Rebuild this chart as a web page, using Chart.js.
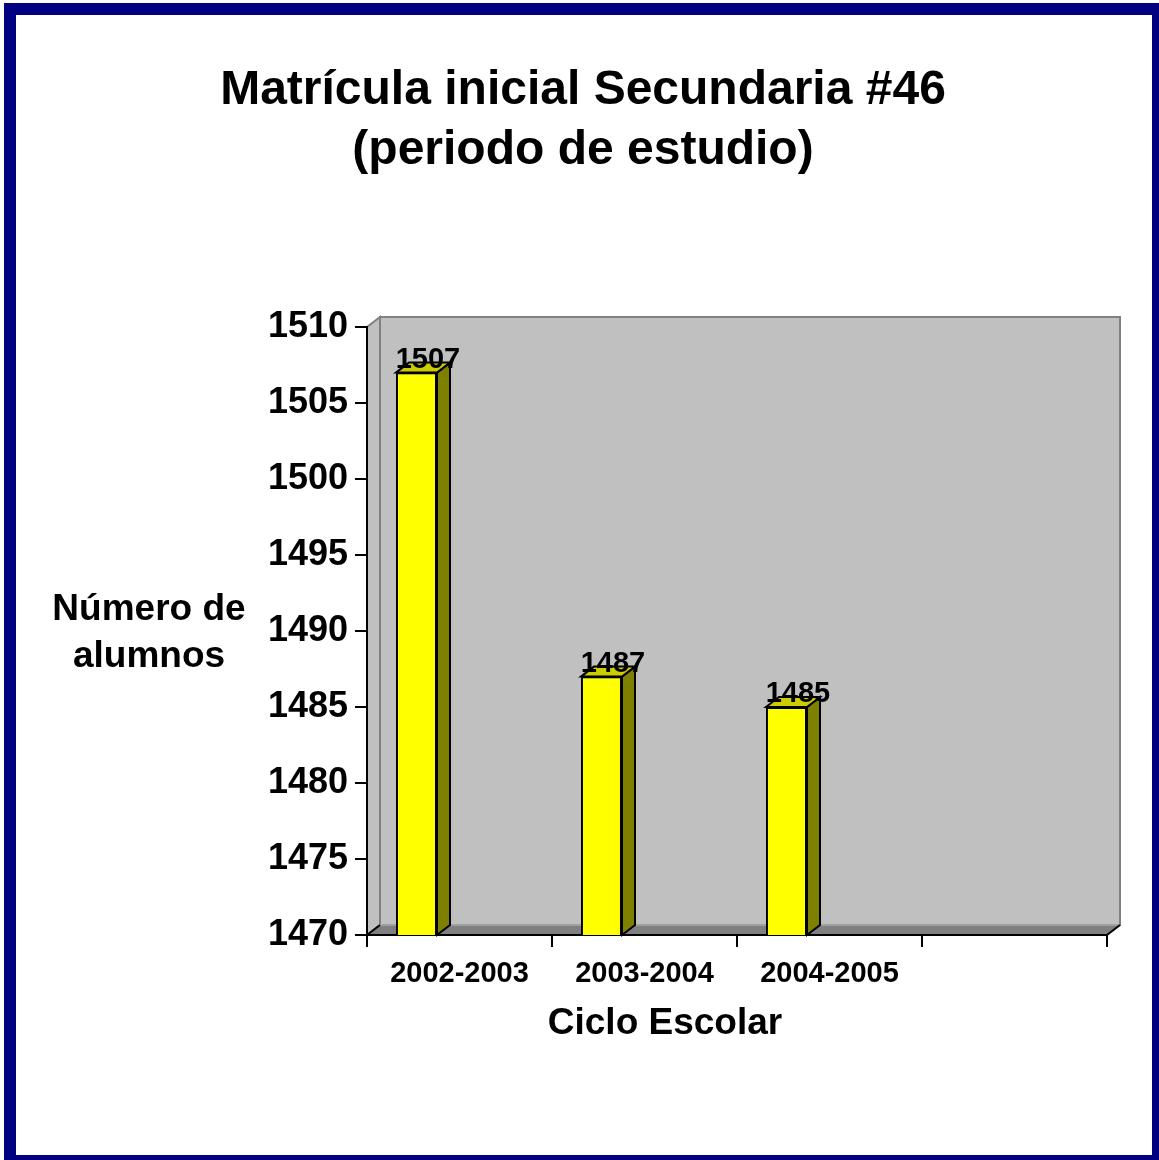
<!DOCTYPE html>
<html>
<head>
<meta charset="utf-8">
<script src="https://cdn.jsdelivr.net/npm/chart.js@4.4.1/dist/chart.umd.min.js"></script>
<style>
  html, body { margin: 0; padding: 0; background: #fff; }
  canvas { display: block; }
</style>
</head>
<body>
<canvas id="matricula" width="1159" height="1160"></canvas>
<script>
var ciclos = ['2002-2003', '2003-2004', '2004-2005', ''];
var alumnos = [1507, 1487, 1485, null];
var yMin = 1470, yMax = 1510, yStep = 5;

var FONT = '"Liberation Sans", Arial, sans-serif';
var DX = 13, DY = -10;   // profundidad del efecto 3D

var fondo3d = {
  id: 'fondo3d',
  beforeDraw(chart) {
    var c = chart.ctx, a = chart.chartArea;
    var L = a.left, R = a.right, T = a.top, B = a.bottom;
    c.save();
    c.fillStyle = '#fff';
    c.fillRect(0, 0, chart.width, chart.height);
    // marco azul
    c.fillStyle = '#000080';
    c.fillRect(4, 3, 1155, 12);
    c.fillRect(4, 3, 12, 1157);
    c.fillRect(1152, 3, 7, 1157);
    c.fillRect(4, 1155, 1155, 5);
    // pared izquierda
    c.lineWidth = 2;
    c.strokeStyle = '#808080';
    c.fillStyle = '#C0C0C0';
    c.beginPath();
    c.moveTo(L, T); c.lineTo(L + DX, T + DY); c.lineTo(L + DX, B + DY); c.lineTo(L, B);
    c.closePath(); c.fill(); c.stroke();
    // pared del fondo
    c.fillRect(L + DX, T + DY, R - L, B - T);
    c.strokeRect(L + DX, T + DY, R - L, B - T);
    // piso
    c.fillStyle = '#808080';
    c.beginPath();
    c.moveTo(L, B); c.lineTo(L + DX, B + DY); c.lineTo(R + DX, B + DY); c.lineTo(R, B);
    c.closePath(); c.fill();
    c.strokeStyle = '#A0A0A0';
    c.beginPath(); c.moveTo(L + DX, B + DY); c.lineTo(R + DX, B + DY); c.stroke();
    c.strokeStyle = '#000';
    c.beginPath(); c.moveTo(R, B); c.lineTo(R + DX, B + DY); c.stroke();
    c.beginPath(); c.moveTo(L, B); c.lineTo(L + DX, B + DY); c.stroke();
    c.restore();
  },
  afterDatasetsDraw(chart) {
    var c = chart.ctx, a = chart.chartArea;
    var meta = chart.getDatasetMeta(0);
    c.save();
    c.lineWidth = 2;
    c.strokeStyle = '#000';
    c.lineJoin = 'miter';
    meta.data.forEach(function (bar, i) {
      if (alumnos[i] == null) return;
      var w = bar.width, l = bar.x - w / 2, r = bar.x + w / 2;
      var top = bar.y, base = Math.min(bar.base, a.bottom);
      // lado
      c.fillStyle = '#808000';
      c.beginPath();
      c.moveTo(r, top); c.lineTo(r + DX, top + DY); c.lineTo(r + DX, base + DY); c.lineTo(r, base);
      c.closePath(); c.fill(); c.stroke();
      // tapa
      c.fillStyle = '#CCCC00';
      c.beginPath();
      c.moveTo(l, top); c.lineTo(l + DX, top + DY); c.lineTo(r + DX, top + DY); c.lineTo(r, top);
      c.closePath(); c.fill(); c.stroke();
      // etiqueta
      c.fillStyle = '#000';
      c.font = 'bold 29px ' + FONT;
      c.textAlign = 'center';
      c.textBaseline = 'alphabetic';
      c.fillText(String(alumnos[i]), l + (w + DX) / 2 + 5, top - 5);
    });
    // textos
    c.fillStyle = '#000';
    c.textAlign = 'center';
    c.textBaseline = 'middle';
    c.font = 'bold 48px ' + FONT;
    c.fillText('Matrícula inicial Secundaria #46', 583, 91);
    c.fillText('(periodo de estudio)', 583, 151);
    c.font = 'bold 37px ' + FONT;
    c.fillText('Número de', 149, 610);
    c.fillText('alumnos', 149, 657);
    c.fillText('Ciclo Escolar', 665, 1024);
    c.restore();
  }
};

new Chart(document.getElementById('matricula').getContext('2d'), {
  type: 'bar',
  data: {
    labels: ciclos,
    datasets: [
      {
        label: 'Matrícula',
        data: alumnos,
        backgroundColor: '#FFFF00',
        borderColor: '#000',
        borderWidth: 2,
        categoryPercentage: 0.93,
        barPercentage: 0.477
      },
      {
        label: '',
        data: [null, null, null, null],
        categoryPercentage: 0.93,
        barPercentage: 0.477
      }
    ]
  },
  options: {
    responsive: false,
    animation: false,
    devicePixelRatio: 1,
    layout: { padding: { top: 327, right: 52, left: 0, bottom: 0 } },
    plugins: {
      legend: { display: false },
      title: { display: false },
      tooltip: { enabled: false }
    },
    scales: {
      x: {
        afterFit: function (s) { s.height = 225; },
        grid: { offset: true, drawOnChartArea: false, color: '#000', lineWidth: 2, tickLength: 12 },
        border: { display: true, color: '#000', width: 2 },
        ticks: { color: '#000', padding: 10, font: { family: FONT, size: 29, weight: 'bold' } }
      },
      y: {
        min: yMin,
        max: yMax,
        afterFit: function (s) { s.width = 367; },
        grid: { drawOnChartArea: false, color: '#000', lineWidth: 2, tickLength: 12 },
        border: { display: true, color: '#000', width: 2 },
        ticks: {
          stepSize: yStep,
          color: '#000',
          padding: 7,
          font: { family: FONT, size: 36, weight: 'bold' },
          callback: function (v) { return String(v); }
        }
      }
    }
  },
  plugins: [fondo3d]
});
</script>
</body>
</html>
